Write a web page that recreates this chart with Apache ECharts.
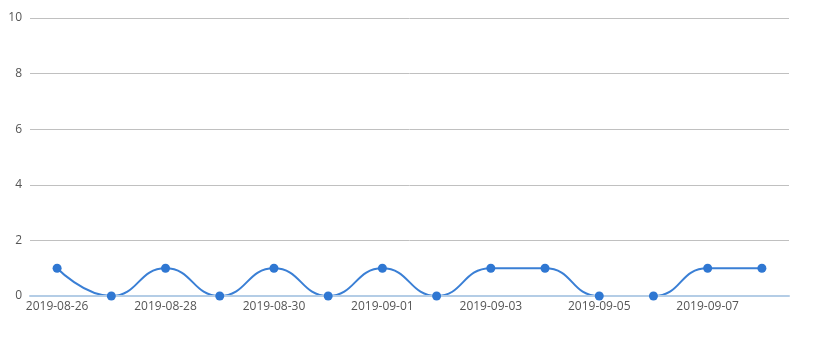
<!DOCTYPE html>
<html><head><meta charset="utf-8">
<script src="https://cdn.jsdelivr.net/npm/echarts@6/dist/echarts.min.js"></script>
<style>html,body{margin:0;padding:0;background:#fff}#c{width:815px;height:337px}</style>
</head><body><div id="c"></div>
<script>
var categories = ['2019-08-26','2019-08-27','2019-08-28','2019-08-29','2019-08-30','2019-08-31','2019-09-01','2019-09-02','2019-09-03','2019-09-04','2019-09-05','2019-09-06','2019-09-07','2019-09-08'];
var values = [1,0,1,0,1,0,1,0,1,1,0,0,1,1];
var yTicks = [0,2,4,6,8,10];
var chart = echarts.init(document.getElementById('c'));
chart.setOption({
  animation:false,
  grid:{left:30,right:26,top:18,bottom:41,containLabel:false},
  xAxis:{type:'category',data:categories,boundaryGap:true,z:3,
    axisLine:{lineStyle:{color:'#b4cde6',width:2}},
    axisTick:{lineStyle:{color:'#b4cde6'},interval:1},
    axisLabel:{color:'#555',fontSize:12,fontFamily:'Open Sans',interval:1,margin:5}},
  yAxis:{type:'value',min:yTicks[0],max:yTicks[yTicks.length-1],interval:2,
    axisLine:{show:false},axisTick:{show:false},
    splitLine:{lineStyle:{color:'#c0c0c0'}},
    axisLabel:{color:'#555',fontSize:12,fontFamily:'Open Sans',margin:8}},
  series:[
    {type:'line',data:values,smooth:true,showSymbol:false,z:2,
      lineStyle:{color:'#3a7fd5',width:2}},
    {type:'scatter',data:values,symbol:'circle',symbolSize:9,z:4,
      itemStyle:{color:'#2f77d2',opacity:1}}
  ]
});
</script></body></html>
